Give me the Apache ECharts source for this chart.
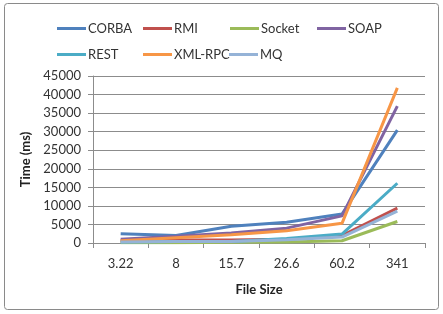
<!DOCTYPE html>
<html>
<head>
<meta charset="utf-8">
<script src="https://cdn.jsdelivr.net/npm/echarts@6/dist/echarts.min.js"></script>
<style>
  html, body { margin: 0; padding: 0; background: #fff; }
  #chart { width: 443px; height: 314px; }
</style>
</head>
<body>
<div id="chart"></div>
<script>
// file sizes on the x axis
const fileSizes = ['3.22', '8', '15.7', '26.6', '60.2', '341']

// time (ms) per protocol
const corba = [2500, 2000, 4500, 5600, 7800, 30400]
const rmi = [600, 800, 800, 1000, 2000, 9400]
const socket = [100, 100, 200, 300, 600, 5800]
const soap = [1000, 1800, 2700, 4000, 7300, 36900]
const rest = [300, 400, 400, 1200, 2400, 16100]
const xmlRpc = [600, 1400, 2200, 3300, 5300, 41800]
const mq = [300, 400, 400, 900, 1600, 8600]

const names = ['CORBA', 'RMI', 'Socket', 'SOAP', 'REST', 'XML-RPC', 'MQ']
const values = [corba, rmi, socket, soap, rest, xmlRpc, mq]
const colors = ['#4F81BD', '#C0504D', '#9BBB59', '#8064A2', '#4BACC6', '#F79646', '#95B3D7']

// legend slots, Excel style grid
const legendPos = [[52, 17], [138, 17], [225, 17], [312, 17], [52, 43], [138, 43], [224, 43]]

const font = 'Lato, "Open Sans", sans-serif'
const gridColor = '#8c8c8c'

const chart = echarts.init(document.getElementById('chart'))

chart.setOption({
  animation: false,
  color: colors,
  textStyle: { fontFamily: font },
  graphic: [{
    type: 'rect',
    shape: { x: 4.5, y: 3.5, width: 434, height: 306, r: 3 },
    style: { fill: 'none', stroke: '#8a8a8a', lineWidth: 1 },
    z: -1
  }],
  legend: names.map((n, i) => ({
    data: [n],
    left: legendPos[i][0],
    top: legendPos[i][1],
    itemWidth: 29,
    itemHeight: 12,
    icon: 'path://M0,5 L29,5 L29,8 L0,8 Z',
    textStyle: { fontFamily: font, fontSize: 13, color: '#333', padding: [0, 0, 0, -3] }
  })),
  grid: {
    left: 93,
    right: 18,
    top: 76,
    bottom: 71
  },
  xAxis: {
    type: 'category',
    data: fileSizes,
    boundaryGap: true,
    name: 'File Size',
    nameLocation: 'middle',
    nameGap: 40,
    nameTextStyle: { fontFamily: font, fontSize: 13, fontWeight: 'bold', color: '#222' },
    axisLine: { lineStyle: { color: gridColor } },
    axisTick: { show: true, length: 5, lineStyle: { color: gridColor } },
    axisLabel: { fontFamily: font, fontSize: 13, color: '#333', margin: 14 }
  },
  yAxis: {
    type: 'value',
    min: 0,
    max: 45000,
    interval: 5000,
    name: 'Time (ms)',
    nameLocation: 'middle',
    nameRotate: 90,
    nameGap: 58,
    nameTextStyle: { fontFamily: font, fontSize: 13, fontWeight: 'bold', color: '#222' },
    axisLine: { show: true, lineStyle: { color: gridColor } },
    axisTick: { show: true, length: 5, lineStyle: { color: gridColor } },
    axisLabel: { fontFamily: font, fontSize: 13, color: '#333', margin: 12, formatter: v => String(v) },
    splitLine: { lineStyle: { color: gridColor, width: 1 } }
  },
  series: names.map((n, i) => ({
    name: n,
    type: 'line',
    data: values[i],
    symbol: 'none',
    lineStyle: { width: 3, color: colors[i] }
  }))
})
</script>
</body>
</html>
